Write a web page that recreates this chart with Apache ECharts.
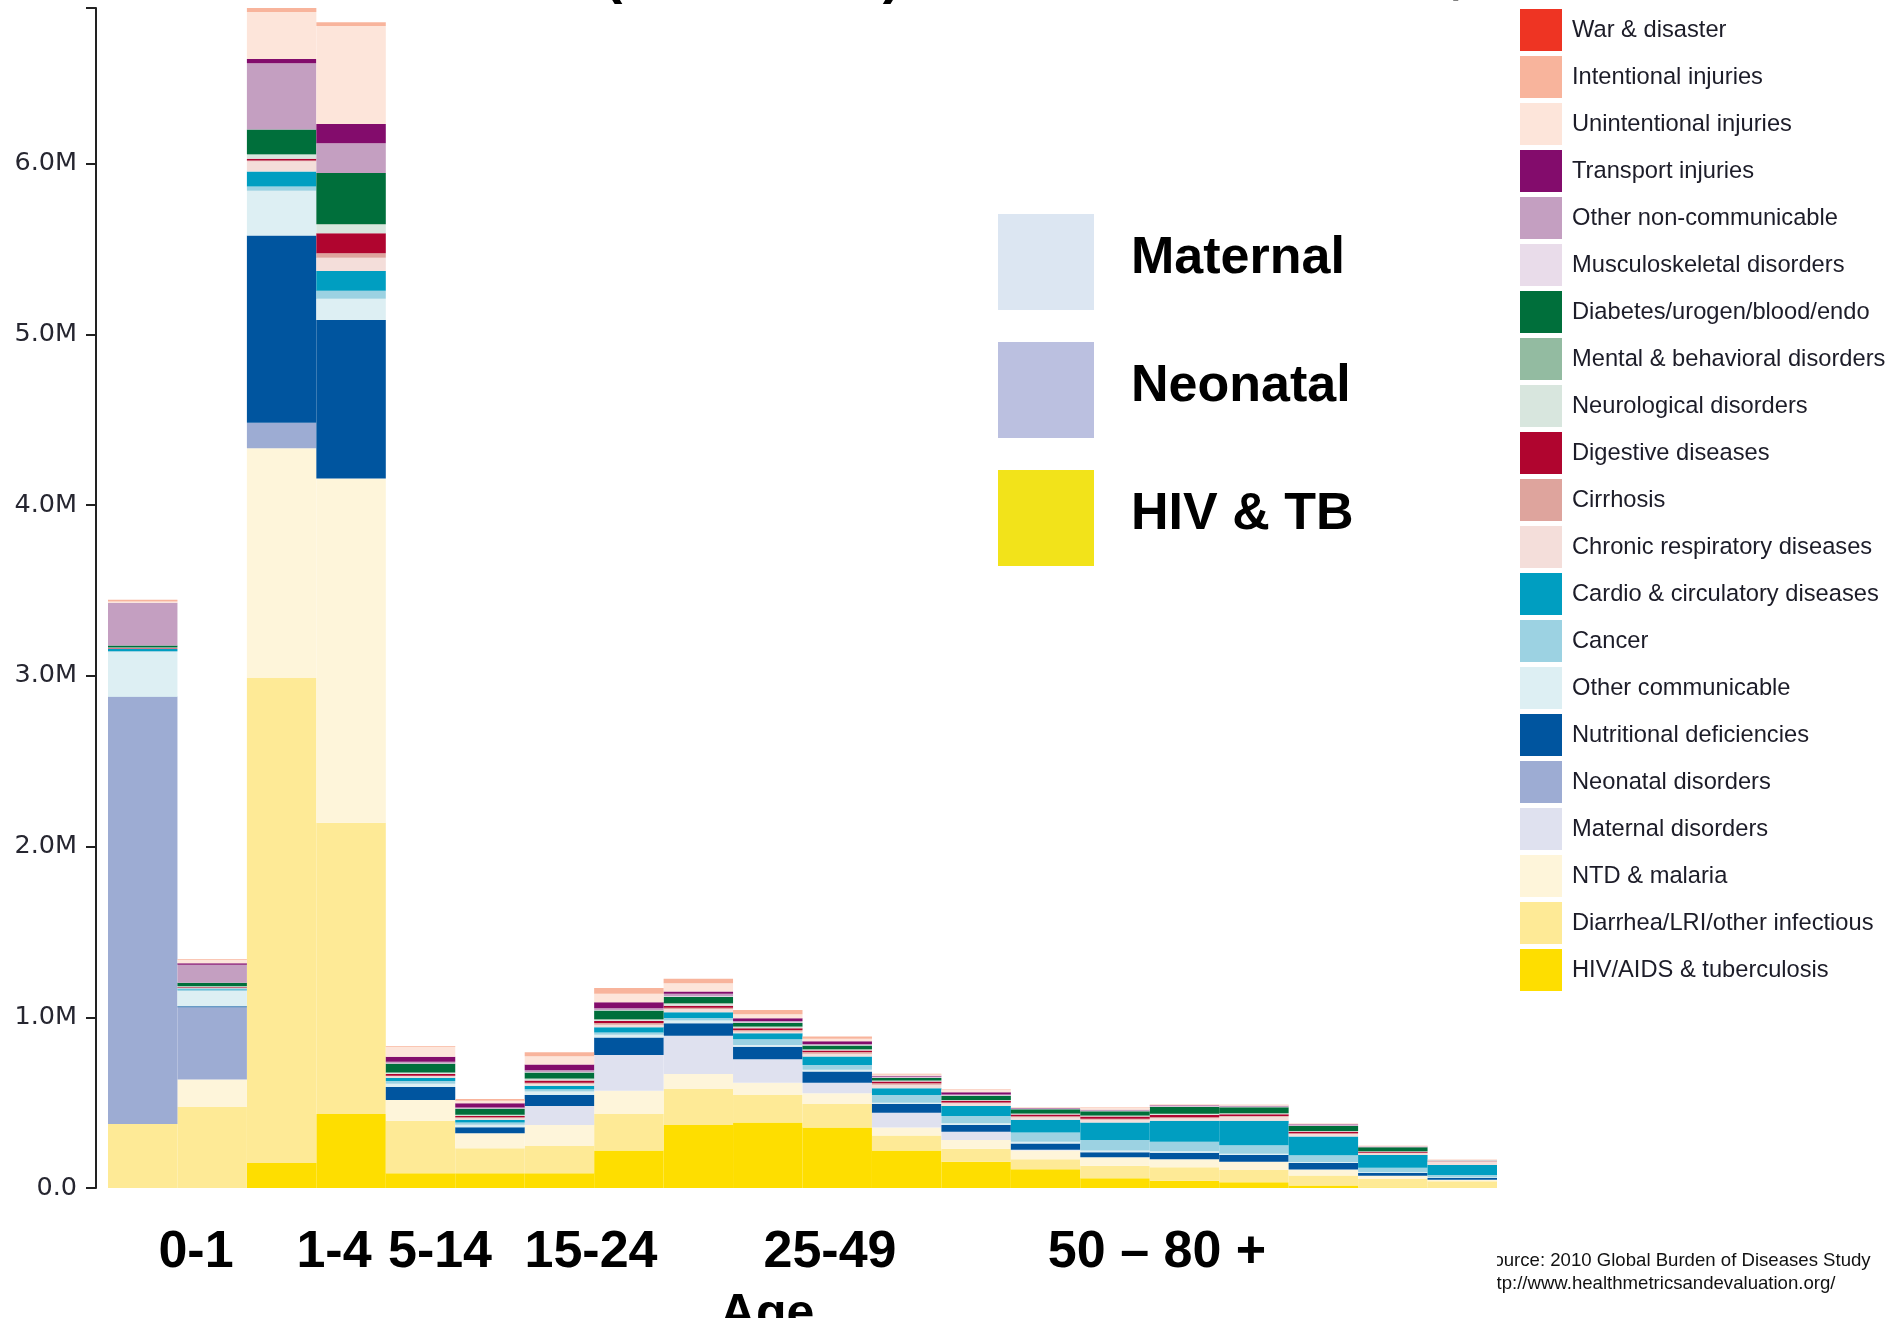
<!DOCTYPE html>
<html>
<head>
<meta charset="utf-8">
<title>DALYs by age and cause, 2010</title>
<script src="https://cdn.jsdelivr.net/npm/echarts@6/dist/echarts.min.js"></script>
<style>
  html, body { margin: 0; padding: 0; background: #fff; }
  #chart { width: 1889px; height: 1318px; }
</style>
</head>
<body>
<div id="chart"></div>
<script>
// age groups (one bar each)
const ageGroups = [
  "Early Neonatal", "Late Neonatal", "Post Neonatal", "1-4", "5-9", "10-14",
  "15-19", "20-24", "25-29", "30-34", "35-39", "40-44", "45-49", "50-54",
  "55-59", "60-64", "65-69", "70-74", "75-79", "80+"
];

// DALYs by cause, millions, same order as ageGroups
const hivTb         = [0, 0, 0.147, 0.434, 0.086, 0.086, 0.086, 0.219, 0.369, 0.383, 0.355, 0.219, 0.154, 0.110, 0.057, 0.043, 0.033, 0.014, 0.003, 0];
const diarrheaLri   = [0.375, 0.475, 2.840, 1.705, 0.308, 0.147, 0.160, 0.215, 0.211, 0.162, 0.137, 0.088, 0.076, 0.058, 0.074, 0.078, 0.072, 0.059, 0.049, 0.039];
const ntdMalaria    = [0, 0.160, 1.346, 2.016, 0.122, 0.088, 0.123, 0.136, 0.088, 0.072, 0.063, 0.048, 0.051, 0.051, 0.049, 0.047, 0.049, 0.035, 0.020, 0.010];
const maternal      = [0, 0, 0, 0, 0, 0, 0.111, 0.209, 0.224, 0.137, 0.062, 0.086, 0.049, 0.005, 0, 0, 0, 0, 0, 0];
const neonatal      = [2.500, 0.424, 0.149, 0, 0, 0, 0, 0, 0, 0, 0, 0, 0, 0, 0, 0, 0, 0, 0, 0];
const nutritional   = [0.002, 0.005, 1.097, 0.928, 0.075, 0.035, 0.065, 0.102, 0.073, 0.074, 0.065, 0.051, 0.039, 0.037, 0.029, 0.039, 0.039, 0.039, 0.016, 0.010];
const otherComm     = [0.262, 0.090, 0.261, 0.125, 0.020, 0.015, 0.020, 0.016, 0.016, 0.010, 0.010, 0.008, 0.010, 0.010, 0.010, 0.008, 0.008, 0.006, 0.004, 0.003];
const cancer        = [0.006, 0.008, 0.026, 0.047, 0.015, 0.012, 0.014, 0.014, 0.014, 0.033, 0.029, 0.045, 0.043, 0.054, 0.062, 0.056, 0.049, 0.039, 0.027, 0.014];
const cardio        = [0.012, 0.006, 0.087, 0.115, 0.020, 0.016, 0.020, 0.031, 0.035, 0.035, 0.049, 0.039, 0.058, 0.075, 0.102, 0.123, 0.144, 0.110, 0.075, 0.058];
const chronicResp   = [0.003, 0.004, 0.060, 0.078, 0.008, 0.010, 0.012, 0.014, 0.018, 0.010, 0.016, 0.020, 0.016, 0.014, 0.016, 0.014, 0.023, 0.014, 0.010, 0.020];
const cirrhosis     = [0, 0, 0.005, 0.026, 0.003, 0.005, 0.006, 0.010, 0.008, 0.010, 0.010, 0.010, 0.005, 0.006, 0.006, 0.006, 0.005, 0.004, 0.002, 0.001];
const digestive     = [0.002, 0.004, 0.010, 0.118, 0.010, 0.008, 0.012, 0.012, 0.012, 0.010, 0.010, 0.010, 0.010, 0.010, 0.014, 0.014, 0.010, 0.010, 0.006, 0.002];
const neurological  = [0.003, 0.006, 0.024, 0.050, 0.008, 0.004, 0.008, 0.006, 0.010, 0.006, 0.004, 0.004, 0.003, 0.004, 0.003, 0.005, 0.004, 0.003, 0.002, 0.001];
const mental        = [0, 0, 0.002, 0.004, 0.002, 0.003, 0.004, 0.006, 0.006, 0.004, 0.002, 0.002, 0.002, 0.002, 0.002, 0.002, 0.002, 0.001, 0.001, 0];
const diabetes      = [0.012, 0.020, 0.146, 0.298, 0.050, 0.035, 0.035, 0.049, 0.035, 0.020, 0.023, 0.014, 0.025, 0.025, 0.025, 0.040, 0.035, 0.029, 0.023, 0.002];
const musculo       = [0, 0, 0, 0, 0.002, 0.002, 0.003, 0.004, 0.004, 0.004, 0.003, 0.003, 0.002, 0.002, 0.002, 0.002, 0.002, 0.002, 0.001, 0.001];
const otherNonComm  = [0.250, 0.105, 0.387, 0.175, 0.010, 0.005, 0.010, 0.010, 0.014, 0.008, 0.006, 0.006, 0.004, 0.004, 0.006, 0.005, 0.005, 0.006, 0.003, 0.002];
const transport     = [0, 0.010, 0.026, 0.112, 0.030, 0.025, 0.035, 0.035, 0.014, 0.016, 0.016, 0.004, 0.014, 0.002, 0.002, 0.002, 0.001, 0.002, 0.001, 0];
const unintentional = [0.008, 0.018, 0.274, 0.575, 0.058, 0.015, 0.048, 0.049, 0.048, 0.023, 0.014, 0.008, 0.014, 0.003, 0.010, 0.005, 0.005, 0.004, 0.003, 0.003];
const intentional   = [0.010, 0.005, 0.024, 0.021, 0.005, 0.010, 0.023, 0.035, 0.026, 0.025, 0.014, 0.004, 0.003, 0.001, 0.002, 0.002, 0.001, 0.001, 0.001, 0.001];
const warDisaster   = [0, 0, 0, 0, 0, 0, 0, 0, 0, 0, 0, 0, 0, 0, 0, 0, 0, 0, 0, 0];

// annotation texts
const groupLabels = ["0-1", "1-4", "5-14", "15-24", "25-49", "50 \u2013 80 +"];
const keyLabels = ["Maternal", "Neonatal", "HIV & TB"];
const sourceLines = [
  "Source: 2010 Global Burden of Diseases Study",
  "http://www.healthmetricsandevaluation.org/"
];

// stack order, bottom to top
const causes = [
  { name: "HIV/AIDS & tuberculosis", data: hivTb, color: "#fede00" },
  { name: "Diarrhea/LRI/other infectious", data: diarrheaLri, color: "#feea96" },
  { name: "NTD & malaria", data: ntdMalaria, color: "#fef5da" },
  { name: "Maternal disorders", data: maternal, color: "#dfe1ef" },
  { name: "Neonatal disorders", data: neonatal, color: "#9dacd3" },
  { name: "Nutritional deficiencies", data: nutritional, color: "#00559f" },
  { name: "Other communicable", data: otherComm, color: "#ddeff3" },
  { name: "Cancer", data: cancer, color: "#9cd2e2" },
  { name: "Cardio & circulatory diseases", data: cardio, color: "#009ec1" },
  { name: "Chronic respiratory diseases", data: chronicResp, color: "#f4deda" },
  { name: "Cirrhosis", data: cirrhosis, color: "#dea49d" },
  { name: "Digestive diseases", data: digestive, color: "#b0052f" },
  { name: "Neurological disorders", data: neurological, color: "#d8e6de" },
  { name: "Mental & behavioral disorders", data: mental, color: "#93bba1" },
  { name: "Diabetes/urogen/blood/endo", data: diabetes, color: "#006f3b" },
  { name: "Musculoskeletal disorders", data: musculo, color: "#e9dcea" },
  { name: "Other non-communicable", data: otherNonComm, color: "#c49fc1" },
  { name: "Transport injuries", data: transport, color: "#830c6c" },
  { name: "Unintentional injuries", data: unintentional, color: "#fde5da" },
  { name: "Intentional injuries", data: intentional, color: "#f8b49c" },
  { name: "War & disaster", data: warDisaster, color: "#ee3423" }
];

// axis runs up to the tallest bar
const totals = ageGroups.map((_, i) => causes.reduce((s, c) => s + c.data[i], 0));
const yMax = Math.max(...totals);

const chart = echarts.init(document.getElementById("chart"));

const bold = size => `bold ${size}px "Liberation Sans", Arial, sans-serif`;
const groupLabelX = [196, 334, 440, 591, 830, 1157];
const keyColors = ["#dce6f2", "#bbc0e0", "#f2e31a"];
const keyTop = [214, 342, 470];

const graphic = [];

// cut-off title (only descenders show)
[["(", 613], [")", 892], [",", 1457]].forEach(([t, x]) => {
  graphic.push({
    type: "text", x, y: -23,
    style: { text: t, font: bold(56), fill: "#000", textAlign: "center", textVerticalAlign: "middle" }
  });
});

// inset key
keyLabels.forEach((label, i) => {
  graphic.push({
    type: "rect",
    shape: { x: 998, y: keyTop[i], width: 96, height: 96 },
    style: { fill: keyColors[i] }
  });
  graphic.push({
    type: "text", x: 1131, y: keyTop[i] + 45,
    style: { text: label, font: bold(52), fill: "#000", textAlign: "left", textVerticalAlign: "middle" }
  });
});

// age group labels
groupLabels.forEach((label, i) => {
  graphic.push({
    type: "text", x: groupLabelX[i], y: 1253,
    style: { text: label, font: bold(52), fill: "#000", textAlign: "center", textVerticalAlign: "middle" }
  });
});
graphic.push({
  type: "text", x: 767, y: 1315,
  style: { text: "Age", font: bold(50), fill: "#000", textAlign: "center", textVerticalAlign: "middle" }
});

// source note, clipped on the left like the slide
sourceLines.forEach((line, i) => {
  graphic.push({
    type: "text", x: 1481, y: 1261 + i * 23, z: 1,
    style: { text: line, font: '18.6px "Liberation Sans", Arial, sans-serif', fill: "#111", textAlign: "left", textVerticalAlign: "middle" }
  });
});
graphic.push({
  type: "rect", z: 2,
  shape: { x: 1400, y: 1240, width: 97, height: 65 },
  style: { fill: "#fff" }
});

chart.setOption({
  animation: false,
  backgroundColor: "#fff",
  grid: { left: 108, right: 392, top: 8, bottom: 130 },
  legend: {
    orient: "vertical",
    left: 1520,
    top: 9,
    padding: 0,
    itemWidth: 42,
    itemHeight: 42,
    itemGap: 5,
    icon: "rect",
    selectedMode: false,
    data: causes.map(c => c.name).reverse(),
    textStyle: {
      fontFamily: '"Liberation Sans", Arial, sans-serif',
      fontSize: 23.7,
      color: "#1c1c28",
      padding: [4, 0, 0, 5]
    }
  },
  xAxis: {
    type: "category",
    data: ageGroups,
    axisLine: { show: false },
    axisTick: { show: false },
    axisLabel: { show: false }
  },
  yAxis: {
    type: "value",
    min: 0,
    max: yMax,
    interval: 1,
    offset: 12,
    splitLine: { show: false },
    axisLine: { show: true, lineStyle: { color: "#222", width: 2 } },
    axisTick: { show: true, length: 10, lineStyle: { color: "#222", width: 2 } },
    axisLabel: {
      margin: 19,
      fontFamily: '"DejaVu Sans", Verdana, sans-serif',
      fontSize: 25.5,
      color: "#262630",
      padding: [4, 0, 0, 0],
      formatter: v => {
        if (v === 0) return "0.0";
        if (Math.abs(v - Math.round(v)) > 1e-6) return "";
        return v.toFixed(1) + "M";
      }
    }
  },
  graphic,
  series: causes.map(c => ({
    name: c.name,
    type: "bar",
    stack: "total",
    barCategoryGap: 0,
    data: c.data,
    itemStyle: { color: c.color },
    emphasis: { disabled: true }
  }))
});

window.addEventListener("resize", () => chart.resize());
</script>
</body>
</html>
